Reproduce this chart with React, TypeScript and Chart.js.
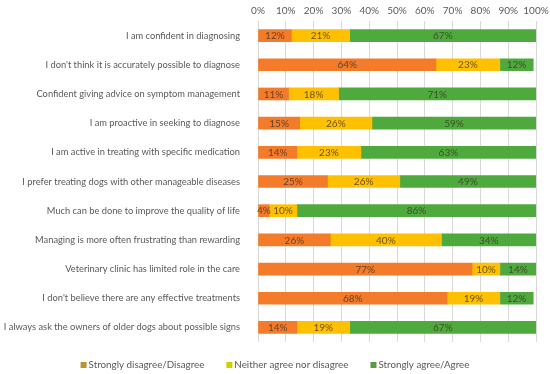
import React, { useEffect, useRef } from "react";
import { Chart, registerables } from "chart.js";

Chart.register(...registerables);

const categories = [
  "I am confident in diagnosing",
  "I don't think it is accurately possible to diagnose",
  "Confident giving advice on symptom management",
  "I am proactive in seeking to diagnose",
  "I am active in treating with specific medication",
  "I prefer treating dogs with other manageable diseases",
  "Much can be done to improve the quality of life",
  "Managing is more often frustrating than rewarding",
  "Veterinary clinic has limited role in the care",
  "I don't believe there are any effective treatments",
  "I always ask the owners of older dogs about possible signs",
];

const disagree = [12, 64, 11, 15, 14, 25, 4, 26, 77, 68, 14];
const neither = [21, 23, 18, 26, 23, 26, 10, 40, 10, 19, 19];
const agree = [67, 12, 71, 59, 63, 49, 86, 34, 14, 12, 67];

const seriesNames = ["Strongly disagree/Disagree", "Neither agree nor disagree", "Strongly agree/Agree"];
const colors = ["#F47B2A", "#FFC000", "#4EAA3C"];
const legendColors = ["#B8962A", "#C8D400", "#5C9A3C"];

const FONT = "Lato, 'Open Sans', sans-serif";

const barLabels = {
  id: "barLabels",
  afterDatasetsDraw(chart: any) {
    const ctx = chart.ctx;
    ctx.save();
    ctx.font = `10px ${FONT}`;
    ctx.fillStyle = "rgba(60,50,40,0.78)";
    ctx.textAlign = "center";
    ctx.textBaseline = "middle";
    chart.data.datasets.forEach((ds: any, di: number) => {
      const meta = chart.getDatasetMeta(di);
      meta.data.forEach((el: any, i: number) => {
        const v = ds.data[i];
        const left = el.base;
        const right = Math.min(el.x, chart.chartArea.right);
        ctx.fillText(`${v}%`, (left + right) / 2, el.y + 0.5);
      });
    });
    ctx.restore();
  },
};

const customLegend = {
  id: "customLegend",
  afterDraw(chart: any) {
    const ctx = chart.ctx;
    ctx.save();
    ctx.font = `9.8px ${FONT}`;
    ctx.textBaseline = "middle";
    ctx.textAlign = "left";
    const sw = 6, swGap = 2, gap = 22;
    const widths = seriesNames.map((n) => ctx.measureText(n).width);
    const total = widths.reduce((a, w) => a + sw + swGap + w, 0) + gap * (seriesNames.length - 1);
    let x = (chart.width - total) / 2;
    const y = 365;
    seriesNames.forEach((n, i) => {
      ctx.fillStyle = legendColors[i];
      ctx.fillRect(x, y - 3, sw, sw);
      ctx.fillStyle = "#595959";
      ctx.fillText(n, x + sw + swGap, y);
      x += sw + swGap + widths[i] + gap;
    });
    ctx.restore();
  },
};

export default function App() {
  const ref = useRef<HTMLCanvasElement>(null);
  useEffect(() => {
    const chart = new Chart(ref.current!, {
      type: "bar",
      data: {
        labels: categories,
        datasets: [disagree, neither, agree].map((d, i) => ({
          label: seriesNames[i],
          data: d,
          backgroundColor: colors[i],
          barThickness: 12,
        })),
      },
      plugins: [barLabels, customLegend],
      options: {
        indexAxis: "y",
        animation: false,
        responsive: true,
        maintainAspectRatio: false,
        layout: { padding: { left: 0, right: 14, top: 0, bottom: 32 } },
        scales: {
          x: {
            position: "top",
            stacked: true,
            min: 0,
            max: 100,
            afterFit: (s: any) => {
              s.height = 21;
              s.paddingLeft = 0;
              s.paddingRight = 0;
            },
            ticks: {
              stepSize: 10,
              callback: (v: any) => `${v}%`,
              color: "#595959",
              font: { family: FONT, size: 10 },
              padding: 4,
              maxRotation: 0,
              minRotation: 0,
              autoSkip: false,
            },
            grid: { color: "#D9D9D9", drawTicks: false },
            border: { display: false },
          },
          y: {
            stacked: true,
            afterFit: (s: any) => { s.width = 258; },
            ticks: {
              color: "#595959",
              font: { family: FONT, size: 9.3 },
              padding: 10,
              autoSkip: false,
            },
            grid: { display: false },
            border: { display: false },
          },
        },
        plugins: {
          legend: { display: false },
          tooltip: { enabled: false },
        },
      },
    });
    return () => chart.destroy();
  }, []);
  return (
    <div style={{ position: "fixed", left: 0, top: 0, width: 550, height: 374, background: "#fff" }}>
      <canvas ref={ref} />
    </div>
  );
}
